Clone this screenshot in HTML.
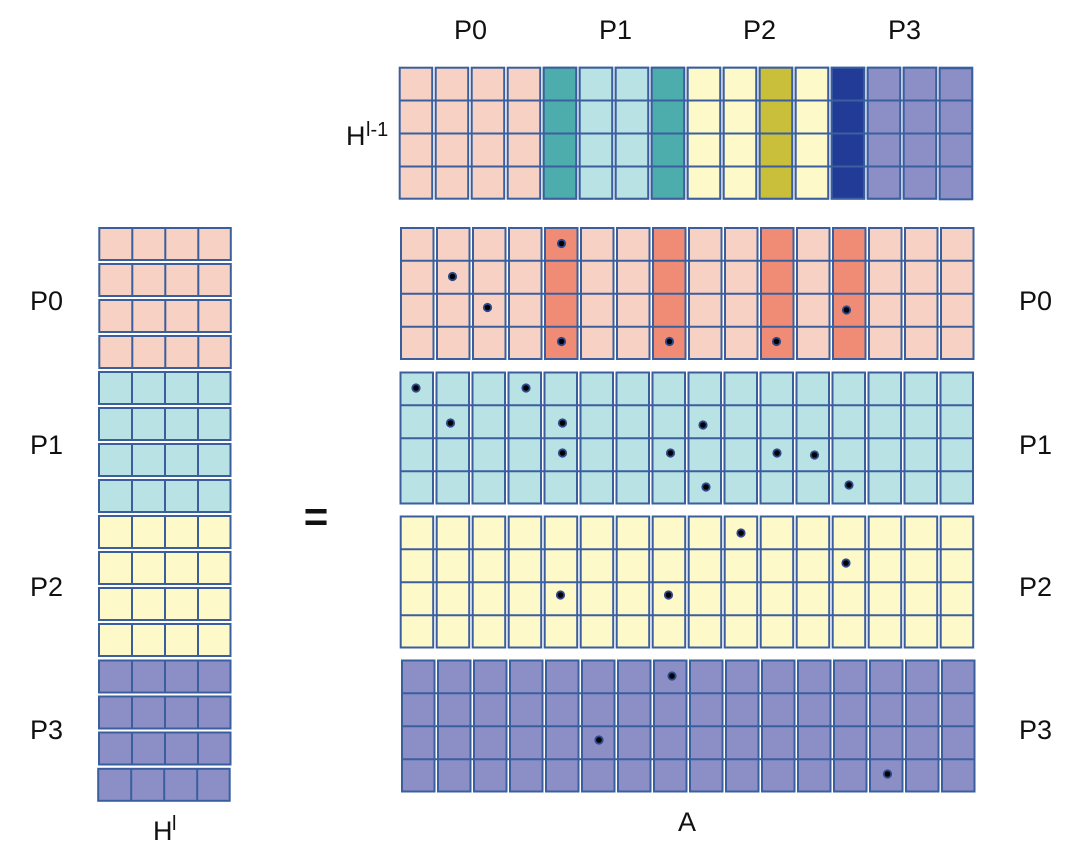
<!DOCTYPE html>
<html lang="en">
<head>
<meta charset="utf-8">
<title>Sparse matrix diagram</title>
<style>
html,body{margin:0;padding:0;background:#fff;width:1080px;height:851px;overflow:hidden}
svg{display:block}
text{font-family:"Liberation Sans",sans-serif;fill:#111;font-size:27px}
.g rect,.g path{stroke:#3b5f9e;stroke-width:2}
.g path{fill:none}
</style>
</head>
<body>
<svg width="1080" height="851" viewBox="0 0 1080 851" xmlns="http://www.w3.org/2000/svg">
<defs>
<filter id="b" x="-2%" y="-2%" width="104%" height="104%"><feGaussianBlur stdDeviation="0.35"/></filter>
<g id="mat" class="g">
<rect x="0" width="32.5" height="131"/><rect x="36" width="32.5" height="131"/><rect x="72" width="32.5" height="131"/><rect x="108" width="32.5" height="131"/>
<rect x="144" width="32.5" height="131"/><rect x="180" width="32.5" height="131"/><rect x="216" width="32.5" height="131"/><rect x="252" width="32.5" height="131"/>
<rect x="288" width="32.5" height="131"/><rect x="324" width="32.5" height="131"/><rect x="360" width="32.5" height="131"/><rect x="396" width="32.5" height="131"/>
<rect x="432" width="32.5" height="131"/><rect x="468" width="32.5" height="131"/><rect x="504" width="32.5" height="131"/><rect x="540" width="32.5" height="131"/>
</g>
<path id="ml" d="M0 32.8H540M0 65.8H540M0 98.8H540" fill="none" stroke="#3b5f9e" stroke-width="2" transform="scale(1.0602 1)"/>
<g id="row" class="g"><rect width="131.5" height="32"/><path d="M33 0V32M66 0V32M99 0V32"/></g>
<g id="d"><circle r="4.6" fill="#2f4a8c"/><circle r="2.8" fill="#000"/></g>
</defs>

<g filter="url(#b)">
<!-- H l-1 -->
<g transform="translate(399.7 67.7)">
<g fill="#f7d1c4"><use href="#mat"/></g>
<g class="g">
<rect x="144" width="32.5" height="131" fill="#4eadad"/><rect x="180" width="32.5" height="131" fill="#b9e2e4"/><rect x="216" width="32.5" height="131" fill="#b9e2e4"/><rect x="252" width="32.5" height="131" fill="#4eadad"/>
<rect x="288" width="32.5" height="131" fill="#fef9c8"/><rect x="324" width="32.5" height="131" fill="#fef9c8"/><rect x="360" width="32.5" height="131" fill="#cabf3b"/><rect x="396" width="32.5" height="131" fill="#fef9c8"/>
<rect x="432" width="32.5" height="131" fill="#243b96"/><rect x="468" width="32.5" height="131" fill="#8b8fc6"/><rect x="504" width="32.5" height="131" fill="#8b8fc6"/><rect x="540" y="0.6" width="32.5" height="131" fill="#8b8fc6"/>
</g>
<use href="#ml"/>
</g>

<!-- A blocks -->
<g transform="translate(401 228)">
<g fill="#f7d1c4"><use href="#mat"/></g>
<g class="g" fill="#f08c75"><rect x="144" width="32.5" height="131"/><rect x="252" width="32.5" height="131"/><rect x="360" width="32.5" height="131"/><rect x="432" width="32.5" height="131"/></g>
<use href="#ml"/>
</g>
<g transform="translate(400.5 372.5)"><g fill="#b9e2e4"><use href="#mat"/></g><use href="#ml"/></g>
<g transform="translate(400.7 516.5)"><g fill="#fef9c8"><use href="#mat"/></g><use href="#ml"/></g>
<g transform="translate(402 660.5)"><g fill="#8b8fc6"><use href="#mat"/></g><use href="#ml"/></g>

<!-- H l -->
<g fill="#f7d1c4">
<use href="#row" x="99.3" y="228"/><use href="#row" x="99.3" y="264"/><use href="#row" x="99.3" y="300"/><use href="#row" x="99.3" y="336"/>
</g>
<g fill="#b9e2e4">
<use href="#row" x="99" y="372"/><use href="#row" x="99" y="408"/><use href="#row" x="99" y="444"/><use href="#row" x="99" y="480"/>
</g>
<g fill="#fef9c8">
<use href="#row" x="99" y="516"/><use href="#row" x="99" y="552"/><use href="#row" x="99" y="588"/><use href="#row" x="99" y="624"/>
</g>
<g fill="#8b8fc6">
<use href="#row" x="99" y="660.5"/><use href="#row" x="99" y="696.5"/><use href="#row" x="99" y="732.5"/><use href="#row" x="98.2" y="768.8"/>
</g>

<!-- dots -->
<use href="#d" x="561.5" y="243.5"/><use href="#d" x="452.5" y="276.5"/><use href="#d" x="487.5" y="307.5"/><use href="#d" x="561.5" y="341.5"/><use href="#d" x="669.5" y="341.5"/><use href="#d" x="776.5" y="341.5"/><use href="#d" x="846.5" y="310"/>
<use href="#d" x="416" y="388"/><use href="#d" x="526" y="388"/><use href="#d" x="450.5" y="423"/><use href="#d" x="562.5" y="423"/><use href="#d" x="703" y="425"/><use href="#d" x="562.5" y="453"/><use href="#d" x="670.5" y="453"/><use href="#d" x="777" y="453"/><use href="#d" x="814.5" y="455"/><use href="#d" x="706" y="487"/><use href="#d" x="849" y="485"/>
<use href="#d" x="741" y="533"/><use href="#d" x="846" y="563"/><use href="#d" x="560.5" y="595"/><use href="#d" x="668.5" y="595"/>
<use href="#d" x="672" y="676"/><use href="#d" x="599" y="740"/><use href="#d" x="887.5" y="774"/>
</g>

<!-- labels -->
<text x="454" y="39">P0</text><text x="599" y="39">P1</text><text x="743" y="39">P2</text><text x="888" y="39">P3</text>
<text x="30" y="310">P0</text><text x="30" y="454">P1</text><text x="30" y="596">P2</text><text x="30" y="739">P3</text>
<text x="1019" y="310">P0</text><text x="1019" y="454">P1</text><text x="1019" y="596">P2</text><text x="1019" y="739">P3</text>
<text x="346" y="145">H</text><text x="366" y="136" style="font-size:20px">l-1</text>
<text x="153" y="840">H</text><text x="172" y="830" style="font-size:20px">l</text>
<text x="678" y="831">A</text>
<text x="316" y="531" text-anchor="middle" style="font-size:42px;font-weight:bold">=</text>
</svg>
</body>
</html>
